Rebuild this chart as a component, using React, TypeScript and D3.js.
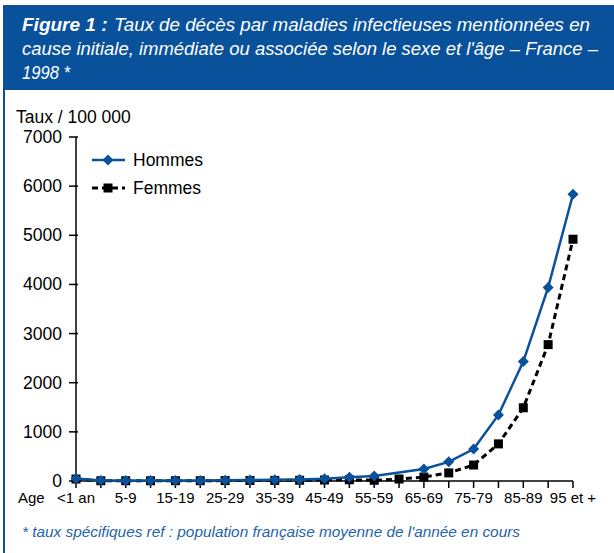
import React from "react";
import * as d3 from "d3";

const ages = ["<1 an", "1-4", "5-9", "10-14", "15-19", "20-24", "25-29", "30-34", "35-39", "40-44", "45-49",
  "50-54", "55-59", "60-64", "65-69", "70-74", "75-79", "80-84", "85-89", "90-94", "95 et +"];
const shownLabels = ["<1 an", "5-9", "15-19", "25-29", "35-39", "45-49", "55-59", "65-69", "75-79", "85-89", "95 et +"];
const hommes: (number | null)[] = [50, 10, 8, 8, 10, 12, 15, 20, 25, 30, 45, 75, 100, null, 245, 390, 650, 1345, 2430, 3940, 5835];
const femmes: (number | null)[] = [40, 5, 5, 5, 6, 6, 8, 10, 12, 15, 20, 25, 15, 40, 80, 165, 325, 755, 1490, 2775, 4920];
const yTicks = [0, 1000, 2000, 3000, 4000, 5000, 6000, 7000];
const titleLines = [
  "Taux de décès par maladies infectieuses mentionnées en",
  "cause initiale, immédiate ou associée selon le sexe et l'âge – France –",
  "1998 *",
];

const BLUE = "#0a519c";
const font = "'Liberation Sans', Arial, Helvetica, sans-serif";

export default function App() {
  const x = d3.scalePoint<string>().domain(ages).range([76, 573]);
  const y = d3.scaleLinear().domain([0, 7000]).range([481, 137]);

  // the 60-64 point for Hommes has no marker in the original, so it's null and skipped
  const line = d3.line<[string, number | null]>()
    .defined(d => d[1] !== null)
    .x(d => x(d[0])!)
    .y(d => y(d[1] as number));

  const hData = ages.map((a, i) => [a, hommes[i]] as [string, number | null]).filter(d => d[1] !== null);
  const fData = ages.map((a, i) => [a, femmes[i]] as [string, number | null]);

  const diamond = (cx: number, cy: number, r = 5.5) =>
    `M${cx},${cy - r}L${cx + r},${cy}L${cx},${cy + r}L${cx - r},${cy}Z`;

  return (
    <svg width={614} height={553} style={{ position: "absolute", left: 0, top: 0, background: "#fff" }}>
      <rect x={0} y={0} width={614} height={553} fill="#fff" />
      {/* header */}
      <rect x={3} y={5} width={611} height={85} fill={BLUE} />
      <line x1={4} y1={90} x2={4} y2={553} stroke={BLUE} strokeWidth={2} />
      <text x={22} y={31} fill="#fff" fontFamily={font} fontSize={19} fontStyle="italic">
        <tspan fontWeight="bold">Figure 1 :</tspan>
      </text>
      <text x={114} y={31} fill="#fff" fontFamily={font} fontSize={19} fontStyle="italic"
        textLength={476} lengthAdjust="spacingAndGlyphs">{titleLines[0]}</text>
      <text x={22} y={55} fill="#fff" fontFamily={font} fontSize={19} fontStyle="italic"
        textLength={576} lengthAdjust="spacingAndGlyphs">{titleLines[1]}</text>
      <text x={22} y={79} fill="#fff" fontFamily={font} fontSize={19} fontStyle="italic"
        textLength={48} lengthAdjust="spacingAndGlyphs">{titleLines[2]}</text>

      {/* axis title */}
      <text x={16} y={123} fontFamily={font} fontSize={17.5} fill="#000">Taux / 100 000</text>

      {/* y axis */}
      <line x1={76} y1={y(7000)} x2={76} y2={y(0)} stroke="#000" strokeWidth={1.5} />
      {yTicks.map(t => (
        <g key={t}>
          <line x1={69} x2={78} y1={y(t)} y2={y(t)} stroke="#000" strokeWidth={1.5} />
          <text x={62} y={y(t) + 6} textAnchor="end" fontFamily={font} fontSize={17.5} fill="#000">{t}</text>
        </g>
      ))}

      {/* x axis */}
      <line x1={76} x2={573} y1={y(0)} y2={y(0)} stroke="#000" strokeWidth={1.5} />
      {ages.map(a => (
        <line key={a} x1={x(a)} x2={x(a)} y1={y(0)} y2={y(0) + 7} stroke="#000" strokeWidth={1.5} />
      ))}
      {shownLabels.map(a => (
        <text key={a} x={x(a)} y={503} textAnchor="middle" fontFamily={font} fontSize={15} fill="#000">{a}</text>
      ))}
      <text x={18} y={503} fontFamily={font} fontSize={15} fill="#000">Age</text>

      {/* Femmes */}
      <path d={line(fData) ?? ""} fill="none" stroke="#000" strokeWidth={3} strokeDasharray="6,4" />
      {fData.map(d => d[1] !== null && (
        <rect key={d[0]} x={x(d[0])! - 4.5} y={y(d[1]) - 4.5} width={9} height={9} fill="#000" />
      ))}

      {/* Hommes */}
      <path d={line(hData) ?? ""} fill="none" stroke={BLUE} strokeWidth={2.5} />
      {hData.map(d => (
        <path key={d[0]} d={diamond(x(d[0])!, y(d[1] as number))} fill={BLUE} />
      ))}

      {/* legend */}
      <line x1={92} x2={125} y1={160} y2={160} stroke={BLUE} strokeWidth={2.5} />
      <path d={diamond(108, 160)} fill={BLUE} />
      <text x={133} y={166} fontFamily={font} fontSize={17.5} fill="#000">Hommes</text>
      <line x1={92} x2={125} y1={188} y2={188} stroke="#000" strokeWidth={3} strokeDasharray="6,4" />
      <rect x={103.5} y={183.5} width={9} height={9} fill="#000" />
      <text x={133} y={194} fontFamily={font} fontSize={17.5} fill="#000">Femmes</text>

      {/* footnote */}
      <text x={22} y={537} fontFamily={font} fontSize={15} fontStyle="italic" fill="#2563aa"
        textLength={498} lengthAdjust="spacingAndGlyphs">
        * taux spécifiques ref : population française moyenne de l'année en cours
      </text>
    </svg>
  );
}
